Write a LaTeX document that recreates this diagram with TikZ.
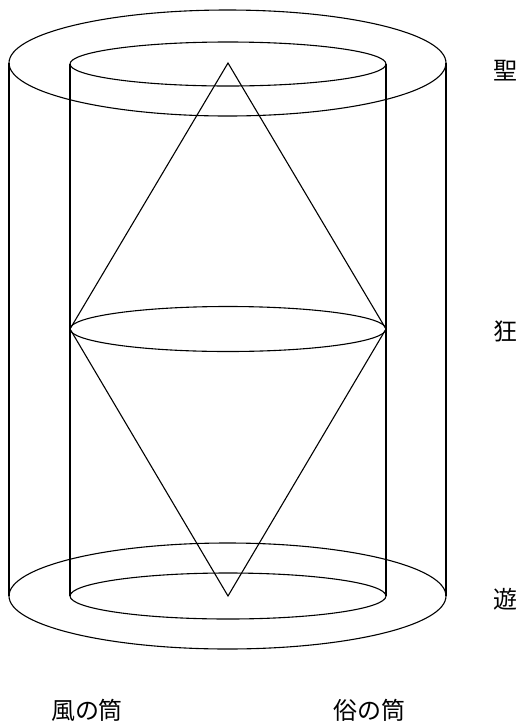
\documentclass[tikz,border=0pt]{standalone}
\usepackage{fontspec}
\newfontfamily\jp{Noto Sans CJK JP}
\begin{document}
\begin{tikzpicture}[x=1pt,y=-1pt,
  wire/.style={line width=1.1pt,black},
  lbl/.style={font=\jp\fontsize{24}{24}\selectfont,inner sep=0pt}]
\useasboundingbox (0,0) rectangle (523,721);
% key points
\coordinate (top) at (228,63);
\coordinate (bot) at (228,596);
\coordinate (midL) at (70,329);
\coordinate (midR) at (386,329);
% outer cylinder
\draw[wire] (227.5,63) ellipse [x radius=218.5, y radius=53];
\draw[wire] (227.5,596) ellipse [x radius=218.5, y radius=53];
\draw[wire] (9,63) -- (9,596);
\draw[wire] (446,63) -- (446,596);
% inner cylinder
\draw[wire] (228,64) ellipse [x radius=158, y radius=22];
\draw[wire] (228,596) ellipse [x radius=158, y radius=23];
\draw[wire] (70,64) -- (70,596);
\draw[wire] (386,64) -- (386,596);
% middle ellipse
\draw[wire] (228,329) ellipse [x radius=158, y radius=22.5];
% diamond
\draw[wire] (top) -- (midR) -- (bot) -- (midL) -- cycle;
% labels
\node[lbl] (sei) at (505,71) {聖};
\node[lbl] (kyo) at (505,331) {狂};
\node[lbl] (yu) at (505,599) {遊};
\node[lbl] (fu) at (87,710) {風の筒};
\node[lbl] (zoku) at (369,710) {俗の筒};
\end{tikzpicture}
\end{document}
